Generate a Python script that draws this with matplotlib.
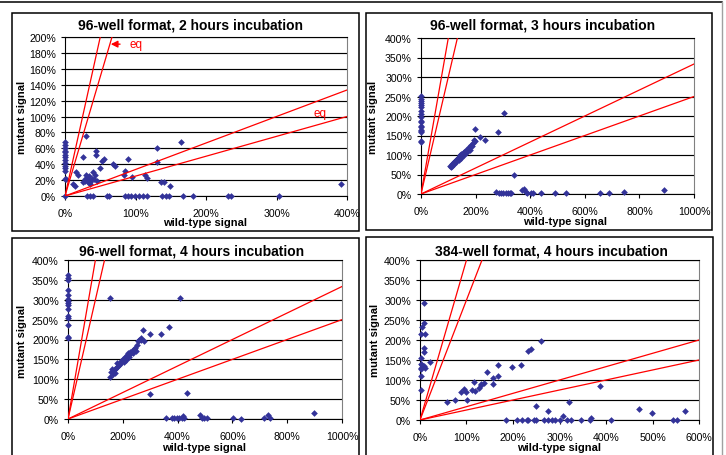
import numpy as np
import matplotlib.pyplot as plt
from matplotlib.ticker import FuncFormatter, MultipleLocator
from matplotlib.lines import Line2D
from matplotlib.patches import Rectangle

plt.rcParams['font.family'] = ['Liberation Sans', 'DejaVu Sans']

# ---- data (percent of reference signal) ----
titles = ["96-well format, 2 hours incubation",
          "96-well format, 3 hours incubation",
          "96-well format, 4 hours incubation",
          "384-well format, 4 hours incubation"]

wt_2h = [0, 0, 0, 0, 0, 0, 0, 0, 0, 0, 0, 0, 0, 2, 0,
         30, 25, 44, 44, 16, 19, 12, 14, 30, 31, 28, 33, 38, 40, 43, 45, 35, 26, 32, 36, 29, 34, 41,
         49, 53, 56, 68, 71, 90, 85, 83, 95, 113, 117, 131, 131, 136, 141, 149, 165, 392,
         31, 35, 40, 59, 63, 85, 90, 94, 99, 105, 110, 117, 137, 143, 148, 167, 181, 231, 236, 304]
mut_2h = [68, 64, 61, 57, 55, 52, 49, 45, 41, 38, 35, 32, 21, 21, 0,
          75, 49, 57, 52, 30, 27, 15, 13, 27, 23, 19, 18, 21, 30, 26, 19, 15, 17, 20, 17, 22, 25, 22,
          35, 44, 46, 40, 38, 46, 32, 27, 24, 26, 23, 60, 43, 18, 18, 12, 68, 15,
          0, 0, 0, 0, 0, 0, 0, 0, 0, 0, 0, 0, 0, 0, 0, 0, 0, 0, 0, 0]

wt_3h = [0] * 18 + [
    107, 110, 112, 115, 118, 120, 122, 125, 128, 130, 132, 135, 138, 140, 142, 145, 148, 150,
    153, 156, 158, 162, 165, 168, 172, 175, 178, 182, 186, 190, 194, 198, 199, 216, 234, 283, 305, 340,
    275, 285, 292, 300, 310, 318, 325, 330, 370, 378, 383, 390, 402, 412, 440, 490, 530, 655, 688, 745, 890]
mut_3h = [252, 244, 239, 234, 229, 222, 214, 205, 197, 188, 184, 175, 171, 165, 162, 158, 137, 133,
          73, 70, 76, 72, 79, 82, 77, 85, 88, 82, 90, 93, 88, 96, 100, 92, 102, 98,
          105, 100, 108, 104, 112, 108, 115, 120, 112, 125, 122, 132, 138, 135, 167, 145, 139, 158, 208, 50,
          6, 3, 2, 2, 2, 2, 2, 2, 10, 14, 4, 2, 2, 2, 3, 2, 3, 2, 2, 6, 11]

wt_4h = [0] * 15 + [
    153, 407,
    155, 158, 160, 163, 165, 170, 172, 175, 178, 180, 185, 190, 195, 200, 203, 208, 212, 215, 218, 222,
    225, 228, 232, 236, 240, 245, 248, 252, 255, 260, 265, 268, 272, 278, 300, 340, 370, 298, 436,
    357, 379, 387, 397, 406, 415, 421, 425, 482, 489, 497, 509, 604, 631, 717, 730, 736, 896]
mut_4h = [362, 355, 350, 325, 312, 303, 298, 293, 288, 277, 258, 253, 236, 207, 203,
          305, 305,
          105, 118, 127, 112, 122, 115, 125, 128, 132, 140, 135, 138, 145, 150, 143, 155, 148, 160, 165, 155,
          168, 163, 170, 165, 175, 178, 170, 185, 195, 200, 205, 198, 225, 197, 215, 215, 232, 63, 66,
          2, 2, 2, 2, 2, 3, 7, 2, 10, 3, 2, 2, 2, 1, 2, 10, 2, 14]

wt_384 = [8, 8, 5, 2, 10, 8, 8, 2, 21, 3, 5, 8, 2, 10, 3, 2, 2,
          58, 75, 102, 89, 95, 100, 116, 118, 112, 132, 138, 126, 131, 145, 157, 156, 167, 167,
          198, 218, 233, 239, 261, 388, 250, 275, 320, 307, 471, 498, 569, 367,
          184, 208, 220, 230, 233, 246, 250, 266, 275, 284, 291, 301, 316, 325, 347, 365, 411, 544, 553]
mut_384 = [293, 243, 232, 214, 214, 179, 169, 155, 145, 140, 137, 134, 130, 130, 127, 110, 75,
           46, 51, 51, 70, 77, 69, 95, 72, 74, 90, 92, 79, 88, 120, 104, 90, 110, 137,
           133, 138, 173, 178, 197, 86, 34, 23, 46, 11, 28, 18, 23, 5,
           0, 0, 0, 0, 0, 0, 0, 0, 0, 0, 0, 0, 0, 0, 0, 0, 0, 0, 0]

wt_sets = [wt_2h, wt_3h, wt_4h, wt_384]
mut_sets = [mut_2h, mut_3h, mut_4h, mut_384]
x_max = [400, 1000, 1000, 600]
x_step = [100, 200, 200, 100]
y_max = [200, 400, 400, 400]
y_step = [20, 50, 50, 50]

# reference lines: mutant = slope * wild-type
slopes = [4, 3, 1 / 3, 1 / 4]

# ---- layout in pixels (left, top, right, bottom) ----
W, H = 726, 456
plot_px = [(65, 38, 347, 197), (421, 39, 694, 195), (68, 261, 342, 420), (420, 261, 699, 421)]
frame_px = [(12, 14, 359, 232), (366, 14, 712, 231), (12, 239, 359, 480), (366, 238, 713, 480)]
title_px = [(191, 26), (543, 26), (192, 251), (551, 251)]
xlab_px = [(205, 223), (565, 222), (204, 448), (559, 448)]
ylab_px = [(22, 117), (373, 117), (22, 341), (375, 340)]


def fx(x):
    return x / W


def fy(y):
    return 1 - y / H


fig = plt.figure(figsize=(W / 100, H / 100), dpi=100)
navy = '#333399'
pct = FuncFormatter(lambda v, p: f"{v:.0f}%")

for i in range(4):
    l, t, r, b = plot_px[i]
    ax = fig.add_axes([fx(l), fy(b), (r - l) / W, (b - t) / H])
    ax.plot(wt_sets[i], mut_sets[i], ls='none', marker='D', ms=3.4, mew=0,
            color=navy, zorder=3, clip_on=False)
    for s in slopes:
        xe = min(x_max[i], y_max[i] / s)
        ax.plot([0, xe], [0, s * xe], color='red', lw=0.9, zorder=4)
    ax.set_xlim(0, x_max[i])
    ax.set_ylim(0, y_max[i])
    ax.xaxis.set_major_locator(MultipleLocator(x_step[i]))
    ax.yaxis.set_major_locator(MultipleLocator(y_step[i]))
    ax.xaxis.set_major_formatter(pct)
    ax.yaxis.set_major_formatter(pct)
    ax.grid(axis='y', color='black', lw=0.85)
    ax.set_axisbelow(True)
    ax.tick_params(axis='both', labelsize=7.6, length=3, width=0.8, color='black')
    ax.tick_params(axis='y', pad=3.6)
    ax.tick_params(axis='x', pad=5.5)
    for side in ['left', 'bottom', 'top']:
        ax.spines[side].set_color('black')
        ax.spines[side].set_linewidth(0.8)
    ax.spines['right'].set_color('#808080')
    ax.spines['right'].set_linewidth(0.8)

    if i == 0:
        ax.annotate('', xy=(61, 191), xytext=(82, 191),
                    arrowprops=dict(arrowstyle='-|>', color='red', lw=1, mutation_scale=10))
        ax.text(91, 191, 'eq', color='red', fontsize=8.4, va='center', ha='left')
        ax.text(353, 104, 'eq', color='red', fontsize=8.4, va='center', ha='left')

    fig.text(fx(title_px[i][0]), fy(title_px[i][1]), titles[i], ha='center', va='center',
             fontsize=10, weight='bold')
    fig.text(fx(xlab_px[i][0]), fy(xlab_px[i][1]), 'wild-type signal', ha='center',
             va='center', fontsize=8, weight='bold')
    fig.text(fx(ylab_px[i][0]), fy(ylab_px[i][1]), 'mutant signal', ha='center',
             va='center', fontsize=8, weight='bold', rotation=90)

    fl, ft, fr, fb = frame_px[i]
    fig.add_artist(Rectangle((fx(fl), fy(fb)), (fr - fl) / W, (fb - ft) / H,
                             transform=fig.transFigure, fill=False, ec='black', lw=1.1))

# page edges
fig.add_artist(Line2D([0, fx(722)], [fy(2.5), fy(2.5)], transform=fig.transFigure,
                      color='black', lw=1.1))
fig.add_artist(Line2D([fx(722), fx(722)], [fy(2.5), 0], transform=fig.transFigure,
                      color='#a0a0a0', lw=1.0))

fig.savefig('out.png', dpi=100)
